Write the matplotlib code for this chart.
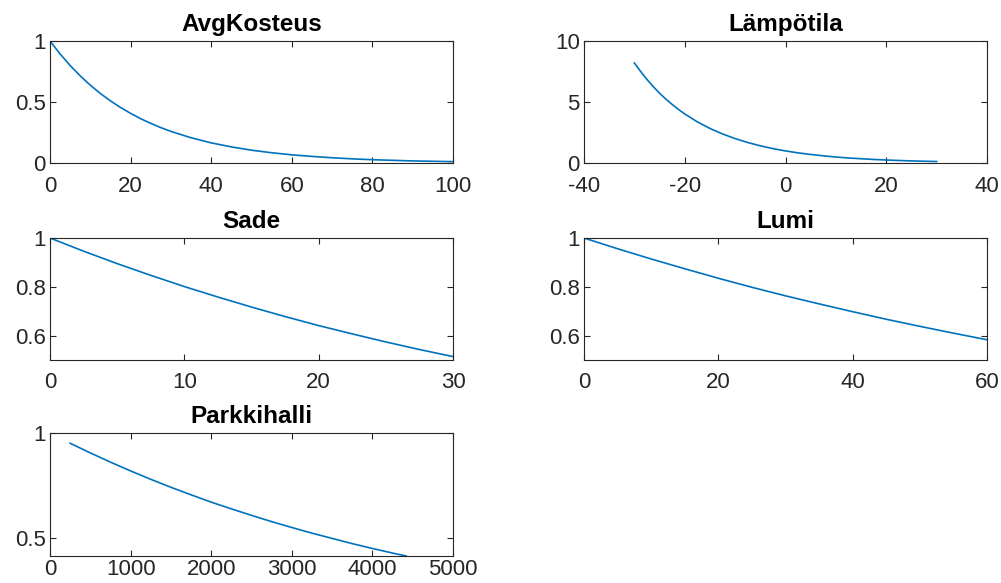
import matplotlib
matplotlib.use("Agg")
import matplotlib.pyplot as plt

plt.rcParams['font.family'] = ['Liberation Sans', 'DejaVu Sans']

# Response curves for each input variable
kosteus_x = [0, 2.5, 5, 7.5, 10, 12.5, 15, 17.5, 20, 22.5, 25, 27.5, 30, 35, 40, 45, 50,
             55, 60, 65, 70, 75, 80, 85, 90, 95, 100]
kosteus_y = [1.0, 0.894, 0.799, 0.714, 0.638, 0.570, 0.509, 0.455, 0.407, 0.363, 0.325,
             0.290, 0.259, 0.207, 0.165, 0.132, 0.105, 0.084, 0.067, 0.054, 0.043, 0.034,
             0.027, 0.022, 0.017, 0.014, 0.011]

lampo_x = [-30, -28.75, -27.5, -26.25, -25, -23.75, -22.5, -21.25, -20, -17.5, -15, -12.5,
           -10, -7.5, -5, -2.5, 0, 2.5, 5, 7.5, 10, 12.5, 15, 17.5, 20, 22.5, 25, 27.5, 30]
lampo_y = [8.2, 7.5, 6.85, 6.26, 5.72, 5.24, 4.8, 4.39, 4.02, 3.37, 2.83, 2.38, 2.0, 1.68,
           1.41, 1.18, 0.99, 0.83, 0.70, 0.59, 0.49, 0.41, 0.35, 0.29, 0.245, 0.205, 0.172,
           0.145, 0.122]

sade_x = [0, 2.5, 5, 7.5, 10, 12.5, 15, 17.5, 20, 22.5, 25, 27.5, 30]
sade_y = [1.0, 0.946, 0.895, 0.847, 0.801, 0.758, 0.717, 0.678, 0.641, 0.607, 0.574, 0.543, 0.514]

lumi_x = [0, 5, 10, 15, 20, 25, 30, 35, 40, 45, 50, 55, 60]
lumi_y = [1.0, 0.956, 0.914, 0.874, 0.835, 0.798, 0.763, 0.730, 0.698, 0.667, 0.638, 0.610, 0.583]

parkki_x = [250, 500, 750, 1000, 1250, 1500, 1750, 2000, 2250, 2500, 2750, 3000,
            3250, 3500, 3750, 4000, 4250, 4420]
parkki_y = [0.951, 0.905, 0.861, 0.819, 0.779, 0.741, 0.705, 0.670, 0.638, 0.607, 0.577,
            0.549, 0.522, 0.497, 0.472, 0.449, 0.427, 0.413]

titles = ['AvgKosteus', 'Lämpötila', 'Sade', 'Lumi', 'Parkkihalli']
series = [(kosteus_x, kosteus_y), (lampo_x, lampo_y), (sade_x, sade_y),
          (lumi_x, lumi_y), (parkki_x, parkki_y)]
xlims = [(0, 100), (-40, 40), (0, 30), (0, 60), (0, 5000)]
ylims = [(0, 1), (0, 10), (0.5, 1), (0.5, 1), (0.413, 1)]
xticks = [[0, 20, 40, 60, 80, 100], [-40, -20, 0, 20, 40], [0, 10, 20, 30],
          [0, 20, 40, 60], [0, 1000, 2000, 3000, 4000, 5000]]
yticks = [[0, 0.5, 1], [0, 5, 10], [0.6, 0.8, 1], [0.6, 0.8, 1], [0.5, 1]]

W, H = 1001, 583
fig = plt.figure(figsize=(W / 100, H / 100), dpi=100)

# axes boxes in pixels: left, top, right, bottom
boxes = [(50, 41, 453, 163), (584, 41, 987, 163),
         (50, 238, 453, 360), (584, 238, 987, 360),
         (50, 433, 453, 556)]
# the lowest row has little room below it, so its labels sit closer
xpads = [9, 9, 9, 9, 2]

edge = '#262626'
for (l, t, r, b), title, (xs, ys), xl, yl, xt, yt, xp in zip(
        boxes, titles, series, xlims, ylims, xticks, yticks, xpads):
    ax = fig.add_axes([l / W, 1 - b / H, (r - l) / W, (b - t) / H])
    ax.plot(xs, ys, color='#0072BD', linewidth=1.2)
    ax.set_xlim(xl)
    ax.set_ylim(yl)
    ax.set_xticks(xt)
    ax.set_yticks(yt)
    ax.set_xticklabels([f'{v:g}' for v in xt])
    ax.set_yticklabels([f'{v:g}' for v in yt])
    ax.tick_params(direction='in', length=4, width=0.8, colors=edge,
                   labelsize=16, top=True, right=True)
    ax.tick_params(axis='x', pad=xp)
    ax.tick_params(axis='y', pad=3)
    for s in ax.spines.values():
        s.set_color(edge)
        s.set_linewidth(0.8)
    ax.set_title(title, fontsize=17.5, fontweight='bold', pad=7, color='black')

fig.savefig('out.png', dpi=100)
